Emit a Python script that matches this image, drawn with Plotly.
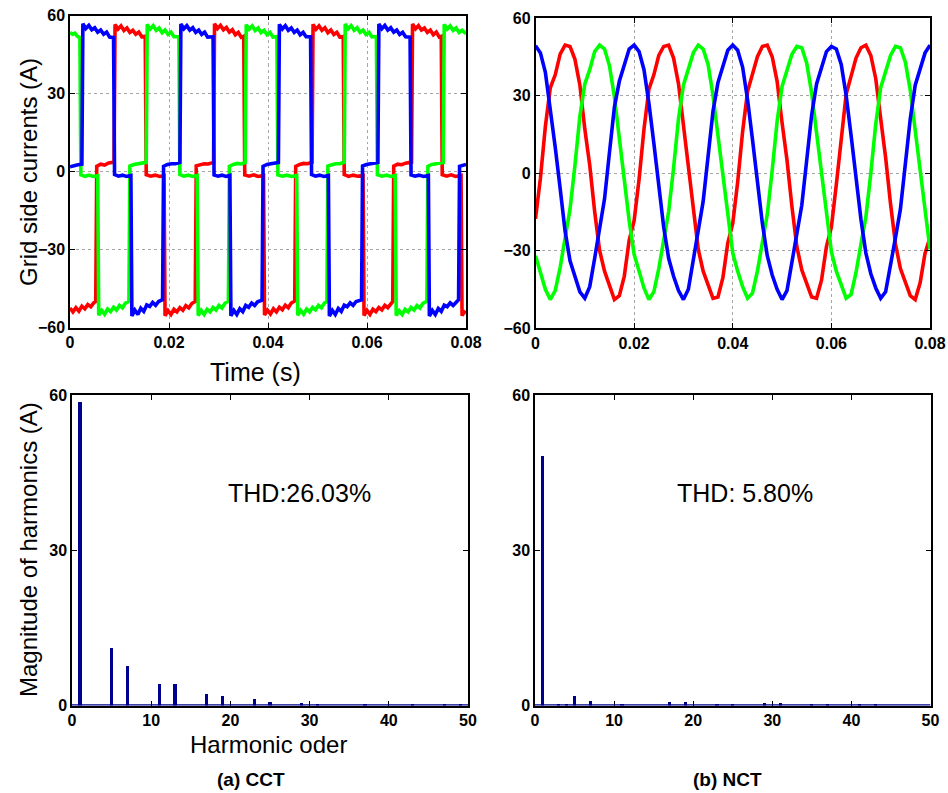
import plotly.graph_objects as go

W, H = 948, 793

# ---------------- (a) CCT grid currents: breakpoints (time in ms, current in A)
cct_red = [
    (0.0, -52.5), (0.6, -54), (1.2, -52.4), (1.8, -53.7), (2.4, -51.8), (3.0, -52.8), (3.6, -51.2), (4.2, -52), (4.8, -50.5), (5.2, -50),
    (5.4, 2.0), (6.2, 2.8), (7.0, 2.5), (7.8, 3.3), (8.9, 3.6),
    (9.1, 56.5), (9.7, 54.8), (10.3, 56), (10.9, 54.2), (11.5, 55.2), (12.1, 53.5), (12.7, 54.3), (13.3, 52.8), (13.9, 53.6), (14.5, 51.8), (15.2, 52),
    (15.4, -1.2), (16.3, -1.8), (17.2, -1.4), (18.1, -1.9), (19.0, -1.6),
    (19.2, -55.5), (19.8, -53.5), (20.4, -55), (21.0, -53), (21.6, -54), (22.2, -52.4), (22.8, -53.4), (23.4, -51.6), (24.0, -52.5), (24.6, -50.8), (25.3, -50),
    (25.5, 2.2), (26.3, 2.6), (27.1, 3.0), (27.9, 2.9), (29.0, 3.5),
    (29.2, 56.8), (29.8, 55), (30.4, 56.2), (31.0, 54.5), (31.6, 55.4), (32.2, 53.6), (32.8, 54.5), (33.4, 52.6), (34.0, 53.5), (34.6, 51.6), (35.1, 52),
    (35.3, -1.3), (36.2, -1.8), (37.1, -1.3), (38.0, -1.9), (39.1, -1.5),
    (39.3, -55.2), (39.9, -53.3), (40.5, -54.8), (41.1, -52.8), (41.7, -54), (42.3, -52.2), (42.9, -53.2), (43.5, -51.4), (44.1, -52.4), (44.7, -50.6), (45.4, -49.8),
    (45.6, 2.0), (46.4, 2.7), (47.2, 3.1), (48.0, 3.0), (48.9, 3.6),
    (49.1, 56.6), (49.7, 54.7), (50.3, 56), (50.9, 54.3), (51.5, 55.3), (52.1, 53.4), (52.7, 54.4), (53.3, 52.7), (53.9, 53.5), (54.5, 51.7), (55.2, 51.9),
    (55.4, -1.2), (56.3, -1.9), (57.2, -1.4), (58.1, -1.8), (59.2, -1.5),
    (59.4, -55.4), (60.0, -53.4), (60.6, -55), (61.2, -53), (61.8, -53.9), (62.4, -52.3), (63.0, -53.2), (63.6, -51.5), (64.2, -52.4), (64.8, -50.7), (65.2, -50),
    (65.4, 2.1), (66.2, 2.8), (67.0, 2.6), (67.8, 3.2), (69.0, 3.6),
    (69.2, 56.7), (69.8, 54.9), (70.4, 56.1), (71.0, 54.4), (71.6, 55.2), (72.2, 53.5), (72.8, 54.4), (73.4, 52.6), (74.0, 53.6), (74.6, 51.7), (75.0, 52),
    (75.2, -1.2), (76.1, -1.8), (77.0, -1.3), (77.9, -1.9), (79.0, -1.5),
    (79.2, -55.5), (79.6, -54), (80.0, -54.5),
]

cct_green = [
    (0.0, 53.5), (0.5, 52.8), (1.0, 53.2), (1.5, 52), (2.0, 51.5),
    (2.2, -1.3), (3.0, -1.9), (3.8, -1.4), (4.7, -1.9), (5.6, -1.6),
    (5.8, -55.3), (6.4, -53.4), (7.0, -54.9), (7.6, -52.9), (8.2, -53.9), (8.8, -52.2), (9.4, -53.3), (10.0, -51.5), (10.6, -52.4), (11.2, -50.6), (11.9, -49.9),
    (12.1, 2.1), (12.9, 2.7), (13.7, 3.0), (14.5, 3.0), (15.4, 3.5),
    (15.6, 56.6), (16.2, 54.8), (16.8, 56.1), (17.4, 54.3), (18.0, 55.2), (18.6, 53.4), (19.2, 54.4), (19.8, 52.7), (20.4, 53.6), (21.0, 51.8), (22.0, 51.8),
    (22.2, -1.2), (23.0, -1.8), (23.9, -1.4), (24.8, -1.9), (25.7, -1.5),
    (25.9, -55.4), (26.5, -53.4), (27.1, -55), (27.7, -53), (28.3, -54), (28.9, -52.3), (29.5, -53.3), (30.1, -51.5), (30.7, -52.5), (31.3, -50.7), (32.0, -49.9),
    (32.2, 2.0), (33.0, 2.7), (33.8, 3.1), (34.6, 2.9), (35.4, 3.5),
    (35.6, 56.5), (36.2, 54.7), (36.8, 56), (37.4, 54.2), (38.0, 55.2), (38.6, 53.4), (39.2, 54.3), (39.8, 52.6), (40.4, 53.5), (41.0, 51.7), (41.8, 51.9),
    (42.0, -1.3), (42.9, -1.8), (43.8, -1.4), (44.8, -1.9), (45.8, -1.5),
    (46.0, -55.3), (46.6, -53.4), (47.2, -54.9), (47.8, -52.9), (48.4, -54), (49.0, -52.3), (49.6, -53.2), (50.2, -51.5), (50.8, -52.4), (51.4, -50.6), (51.9, -50),
    (52.1, 2.1), (52.9, 2.6), (53.7, 3.0), (54.5, 3.0), (55.4, 3.6),
    (55.6, 56.7), (56.2, 54.9), (56.8, 56.1), (57.4, 54.3), (58.0, 55.3), (58.6, 53.5), (59.2, 54.4), (59.8, 52.7), (60.4, 53.5), (61.0, 51.8), (61.9, 51.9),
    (62.1, -1.2), (63.0, -1.8), (63.9, -1.4), (64.8, -1.9), (65.7, -1.5),
    (65.9, -55.4), (66.5, -53.5), (67.1, -55), (67.7, -53), (68.3, -54), (68.9, -52.3), (69.5, -53.3), (70.1, -51.6), (70.7, -52.5), (71.3, -50.7), (72.1, -49.9),
    (72.3, 2.0), (73.1, 2.7), (73.9, 3.0), (74.7, 3.0), (75.4, 3.5),
    (75.6, 56.6), (76.2, 54.8), (76.8, 56), (77.4, 54.3), (78.0, 55.2), (78.6, 53.5), (79.2, 54.3), (80.0, 53.0),
]

cct_blue = [
    (0.0, 1.8), (0.8, 2.3), (1.6, 2.6), (2.4, 2.8),
    (2.6, 56.8), (3.2, 55), (3.8, 56.2), (4.4, 54.5), (5.0, 55.3), (5.6, 53.6), (6.2, 54.4), (6.8, 52.8), (7.4, 53.6), (8.0, 51.7), (8.8, 51.5),
    (9.0, -1.2), (9.8, -1.8), (10.6, -1.4), (11.4, -1.9), (12.3, -1.5),
    (12.5, -55.6), (13.1, -53.3), (13.7, -55), (14.3, -52.6), (14.9, -53.8), (15.5, -51.3), (16.1, -51.9), (16.7, -50.4), (17.3, -51.5), (17.9, -50), (18.7, -49.3),
    (18.9, 2.0), (19.7, 2.7), (20.5, 3.0), (21.3, 3.0), (22.2, 3.5),
    (22.4, 56.7), (23.0, 54.9), (23.6, 56.1), (24.2, 54.4), (24.8, 55.3), (25.4, 53.5), (26.0, 54.4), (26.6, 52.7), (27.2, 53.6), (27.8, 51.7), (28.9, 51.8),
    (29.1, -1.3), (29.9, -1.8), (30.7, -1.4), (31.5, -1.9), (32.3, -1.5),
    (32.5, -55.5), (33.1, -53.4), (33.7, -55), (34.3, -52.8), (34.9, -53.9), (35.5, -51.5), (36.1, -52.2), (36.7, -50.6), (37.3, -51.5), (37.9, -50.1), (38.8, -49.5),
    (39.0, 2.0), (39.8, 2.7), (40.6, 3.0), (41.4, 3.1), (42.1, 3.5),
    (42.3, 56.6), (42.9, 54.8), (43.5, 56.1), (44.1, 54.3), (44.7, 55.2), (45.3, 53.5), (45.9, 54.4), (46.5, 52.6), (47.1, 53.5), (47.7, 51.8), (48.6, 51.8),
    (48.8, -1.2), (49.6, -1.8), (50.4, -1.4), (51.3, -1.9), (52.2, -1.5),
    (52.4, -55.6), (53.0, -53.4), (53.6, -55), (54.2, -52.7), (54.8, -53.8), (55.4, -51.4), (56.0, -52), (56.6, -50.5), (57.2, -51.5), (57.8, -50), (58.9, -49.4),
    (59.1, 2.1), (59.9, 2.7), (60.7, 3.0), (61.5, 3.0), (62.2, 3.5),
    (62.4, 56.7), (63.0, 54.9), (63.6, 56.2), (64.2, 54.4), (64.8, 55.3), (65.4, 53.6), (66.0, 54.4), (66.6, 52.7), (67.2, 53.5), (67.8, 51.8), (68.7, 51.7),
    (68.9, -1.3), (69.7, -1.8), (70.5, -1.4), (71.4, -1.9), (72.4, -1.5),
    (72.6, -55.6), (73.2, -53.4), (73.8, -55), (74.4, -52.7), (75.0, -53.8), (75.6, -51.4), (76.2, -52), (76.8, -50.5), (77.4, -51.5), (78.0, -50), (78.5, -49.3),
    (78.7, 2.0), (79.5, 2.5), (80.0, 2.7),
]

# ---------------- (b) NCT grid currents, sampled every 1 ms (0 ... 80 ms)
nct_time_ms = [0, 1, 2, 3, 4, 5, 6, 7, 8, 9, 10, 11, 12, 13, 14, 15, 16, 17, 18, 19,
               20, 21, 22, 23, 24, 25, 26, 27, 28, 29, 30, 31, 32, 33, 34, 35, 36, 37, 38, 39,
               40, 41, 42, 43, 44, 45, 46, 47, 48, 49, 50, 51, 52, 53, 54, 55, 56, 57, 58, 59,
               60, 61, 62, 63, 64, 65, 66, 67, 68, 69, 70, 71, 72, 73, 74, 75, 76, 77, 78, 79, 80]
nct_red = [-17.7, -2, 18, 33, 38, 46, 49.5, 49, 44, 34, 17, 3, -15, -30, -38, -43.5, -49, -47.5, -40, -26,
           -18.5, -2.5, 17, 32.5, 38, 45.5, 49, 49.5, 44.5, 34.5, 18, 4, -14, -29.5, -38, -43, -48.5, -48, -40.5, -27,
           -19.5, -3.5, 16, 31.5, 38, 45, 49, 49.5, 45, 35.5, 19.5, 5, -13, -28.5, -37.5, -42.5, -48, -48.5, -41.5, -28.5,
           -21, -4.5, 14.5, 30.5, 37.5, 44.5, 48.5, 49.5, 45.5, 36.5, 21, 6, -12, -27.5, -37, -42.5, -47.5, -49, -42.5, -31,
           -25]
nct_green = [-32, -38.5, -45, -49, -45.5, -36.5, -25, -14, 3, 22, 34.5, 40, 47, 49.5, 48, 41.5, 29.5, 13.5, -1.5, -18.5,
             -31.5, -38.5, -44.5, -49, -46, -37, -26, -15, 2, 21, 34, 40, 46.5, 49.5, 48, 42, 30, 14.5, -1, -18,
             -31, -38, -44, -48.5, -46.5, -38, -27, -16, 1, 20, 33.5, 39.5, 46, 49, 48.5, 42.5, 31, 15.5, 0, -17,
             -30.5, -38, -43.5, -48.5, -47, -38.5, -27.5, -17, 0, 19, 33, 39.5, 45.5, 49, 48.5, 43, 32, 16.5, 1, -16,
             -29.5]
nct_blue = [49.3, 46.5, 39, 25.5, 10, -6, -22.5, -34, -40.5, -46, -48.5, -44, -33, -22, -10, 8, 25.5, 35.5, 42, 48,
            49.5, 47, 40, 27, 11.5, -4.5, -21, -33, -40, -45.5, -49, -45, -34, -23, -11, 6.5, 24, 35, 41.5, 47.5,
            49.5, 47.5, 41, 28.5, 13, -3, -19.5, -32, -39.5, -45, -49, -45.5, -35, -24, -12.5, 5, 22.5, 34.5, 41, 47,
            49, 48, 42, 30, 14.5, -1.5, -18, -31, -39, -44.5, -48.5, -46, -36, -25, -14, 3.5, 21, 34, 40.5, 46.5,
            49.5]

# ---------------- harmonic spectra
cct_orders = [1, 5, 7, 11, 13, 17, 19, 23, 25, 29, 31, 37, 43, 47, 49]
cct_mags = [58.7, 11.1, 7.7, 4.1, 4.1, 2.3, 1.9, 1.2, 0.65, 0.4, 0.2, 0.2, 0.2, 0.2, 0.25]
nct_orders = [1, 3, 4, 5, 7, 11, 17, 19, 23, 25, 29, 31, 35, 37, 41, 43]
nct_mags = [48.2, 0.25, 0.25, 1.9, 0.9, 0.2, 0.6, 0.6, 0.2, 0.2, 0.45, 0.45, 0.2, 0.2, 0.2, 0.2]

time_ticks = [0, 0.02, 0.04, 0.06, 0.08]
time_ticklabels = ['0', '0.02', '0.04', '0.06', '0.08']
current_ticks = [-60, -30, 0, 30, 60]
harm_xticks = [0, 10, 20, 30, 40, 50]
harm_yticks = [0, 30, 60]
thd_texts = ['THD:26.03%', 'THD: 5.80%']
captions = ['(a) CCT', '(b) NCT']

PHASE_COLORS = ['#ff0000', '#00ff00', '#0000ff']
BAR_COLOR = '#00008f'
FONT = 'Liberation Sans, Arial, sans-serif'

fig = go.Figure()

for pts, col in zip([cct_red, cct_green, cct_blue], PHASE_COLORS):
    fig.add_trace(go.Scatter(x=[p[0] / 1000 for p in pts], y=[p[1] for p in pts], mode='lines',
                             line=dict(color=col, width=3.6), xaxis='x', yaxis='y', showlegend=False))

t_s = [t / 1000 for t in nct_time_ms]
for vals, col in zip([nct_red, nct_green, nct_blue], PHASE_COLORS):
    fig.add_trace(go.Scatter(x=t_s, y=vals, mode='lines', line=dict(color=col, width=3.6),
                             xaxis='x2', yaxis='y2', showlegend=False))

fig.add_trace(go.Bar(x=cct_orders, y=cct_mags, width=0.4, marker=dict(color=BAR_COLOR, line=dict(width=0)),
                     xaxis='x3', yaxis='y3', showlegend=False))
fig.add_trace(go.Bar(x=nct_orders, y=nct_mags, width=0.4, marker=dict(color=BAR_COLOR, line=dict(width=0)),
                     xaxis='x4', yaxis='y4', showlegend=False))


def px_x(v):
    return v / W


def px_y(v):
    return 1 - v / H


def axis(domain, anchor, rng, tickvals, ticktext=None, grid=False):
    d = dict(domain=domain, anchor=anchor, range=rng, tickmode='array', tickvals=tickvals,
             showline=True, linecolor='black', linewidth=1.5, mirror='ticks',
             ticks='inside', ticklen=5, tickwidth=1, tickcolor='black',
             tickfont=dict(family=FONT, size=16, color='black', weight='bold'),
             ticklabeloverflow='allow',
             zeroline=False, showgrid=grid, fixedrange=True, automargin=False)
    if ticktext is not None:
        d['ticktext'] = ticktext
    if grid:
        d.update(gridcolor='#a6a6a6', griddash='dot', gridwidth=1)
    return d


layout = dict(
    width=W, height=H, margin=dict(l=0, r=0, t=0, b=0, pad=0, autoexpand=False),
    paper_bgcolor='white', plot_bgcolor='white', showlegend=False, bargap=0,
    xaxis=axis([px_x(70), px_x(466)], 'y', [0, 0.08], time_ticks, time_ticklabels, grid=True),
    yaxis=axis([px_y(327.5), px_y(15.5)], 'x', [-60, 60], current_ticks, grid=True),
    xaxis2=axis([px_x(535.5), px_x(930)], 'y2', [0, 0.08], time_ticks, time_ticklabels, grid=True),
    yaxis2=axis([px_y(328), px_y(18)], 'x2', [-60, 60], current_ticks, grid=True),
    xaxis3=axis([px_x(72), px_x(468)], 'y3', [0, 50], harm_xticks),
    yaxis3=axis([px_y(705.5), px_y(395)], 'x3', [0, 60], harm_yticks),
    xaxis4=axis([px_x(535), px_x(930.5)], 'y4', [0, 50], harm_xticks),
    yaxis4=axis([px_y(705.5), px_y(395)], 'x4', [0, 60], harm_yticks),
)
fig.update_layout(**layout)

# navy base line of the spectra
for xr, yr in [('x3', 'y3'), ('x4', 'y4')]:
    fig.add_shape(type='line', xref=xr, yref=yr, x0=harm_xticks[0], x1=harm_xticks[-1], y0=0, y1=0,
                  line=dict(color=BAR_COLOR, width=2.5), layer='above')


def note(text, x, y, size, bold=False, angle=0):
    fig.add_annotation(text=text, xref='paper', yref='paper', x=px_x(x), y=px_y(y),
                       xanchor='center', yanchor='middle', showarrow=False, textangle=angle,
                       font=dict(family=FONT, size=size, color='black', weight='bold' if bold else 'normal'))


note('Grid side currents (A)', 28, 172, 24, angle=-90)
note('Time (s)', 256, 372, 25)
note('Magnitude of harmonics (A)', 28, 550, 24, angle=-90)
note('Harmonic oder', 268, 744, 24)
note(captions[0], 251, 779, 19, bold=True)
note(captions[1], 727, 779, 19, bold=True)

fig.add_annotation(text=thd_texts[0], xref='x3', yref='y3', x=28.7, y=41, showarrow=False,
                   xanchor='center', yanchor='middle', font=dict(family=FONT, size=25, color='black'))
fig.add_annotation(text=thd_texts[1], xref='x4', yref='y4', x=26.5, y=41, showarrow=False,
                   xanchor='center', yanchor='middle', font=dict(family=FONT, size=25, color='black'))

# remove the default 8 px page margin so the figure fills the window exactly
fig.write_html('out.html', config={'displayModeBar': False},
               post_script="document.body.style.margin='0';document.body.style.overflow='hidden';")
